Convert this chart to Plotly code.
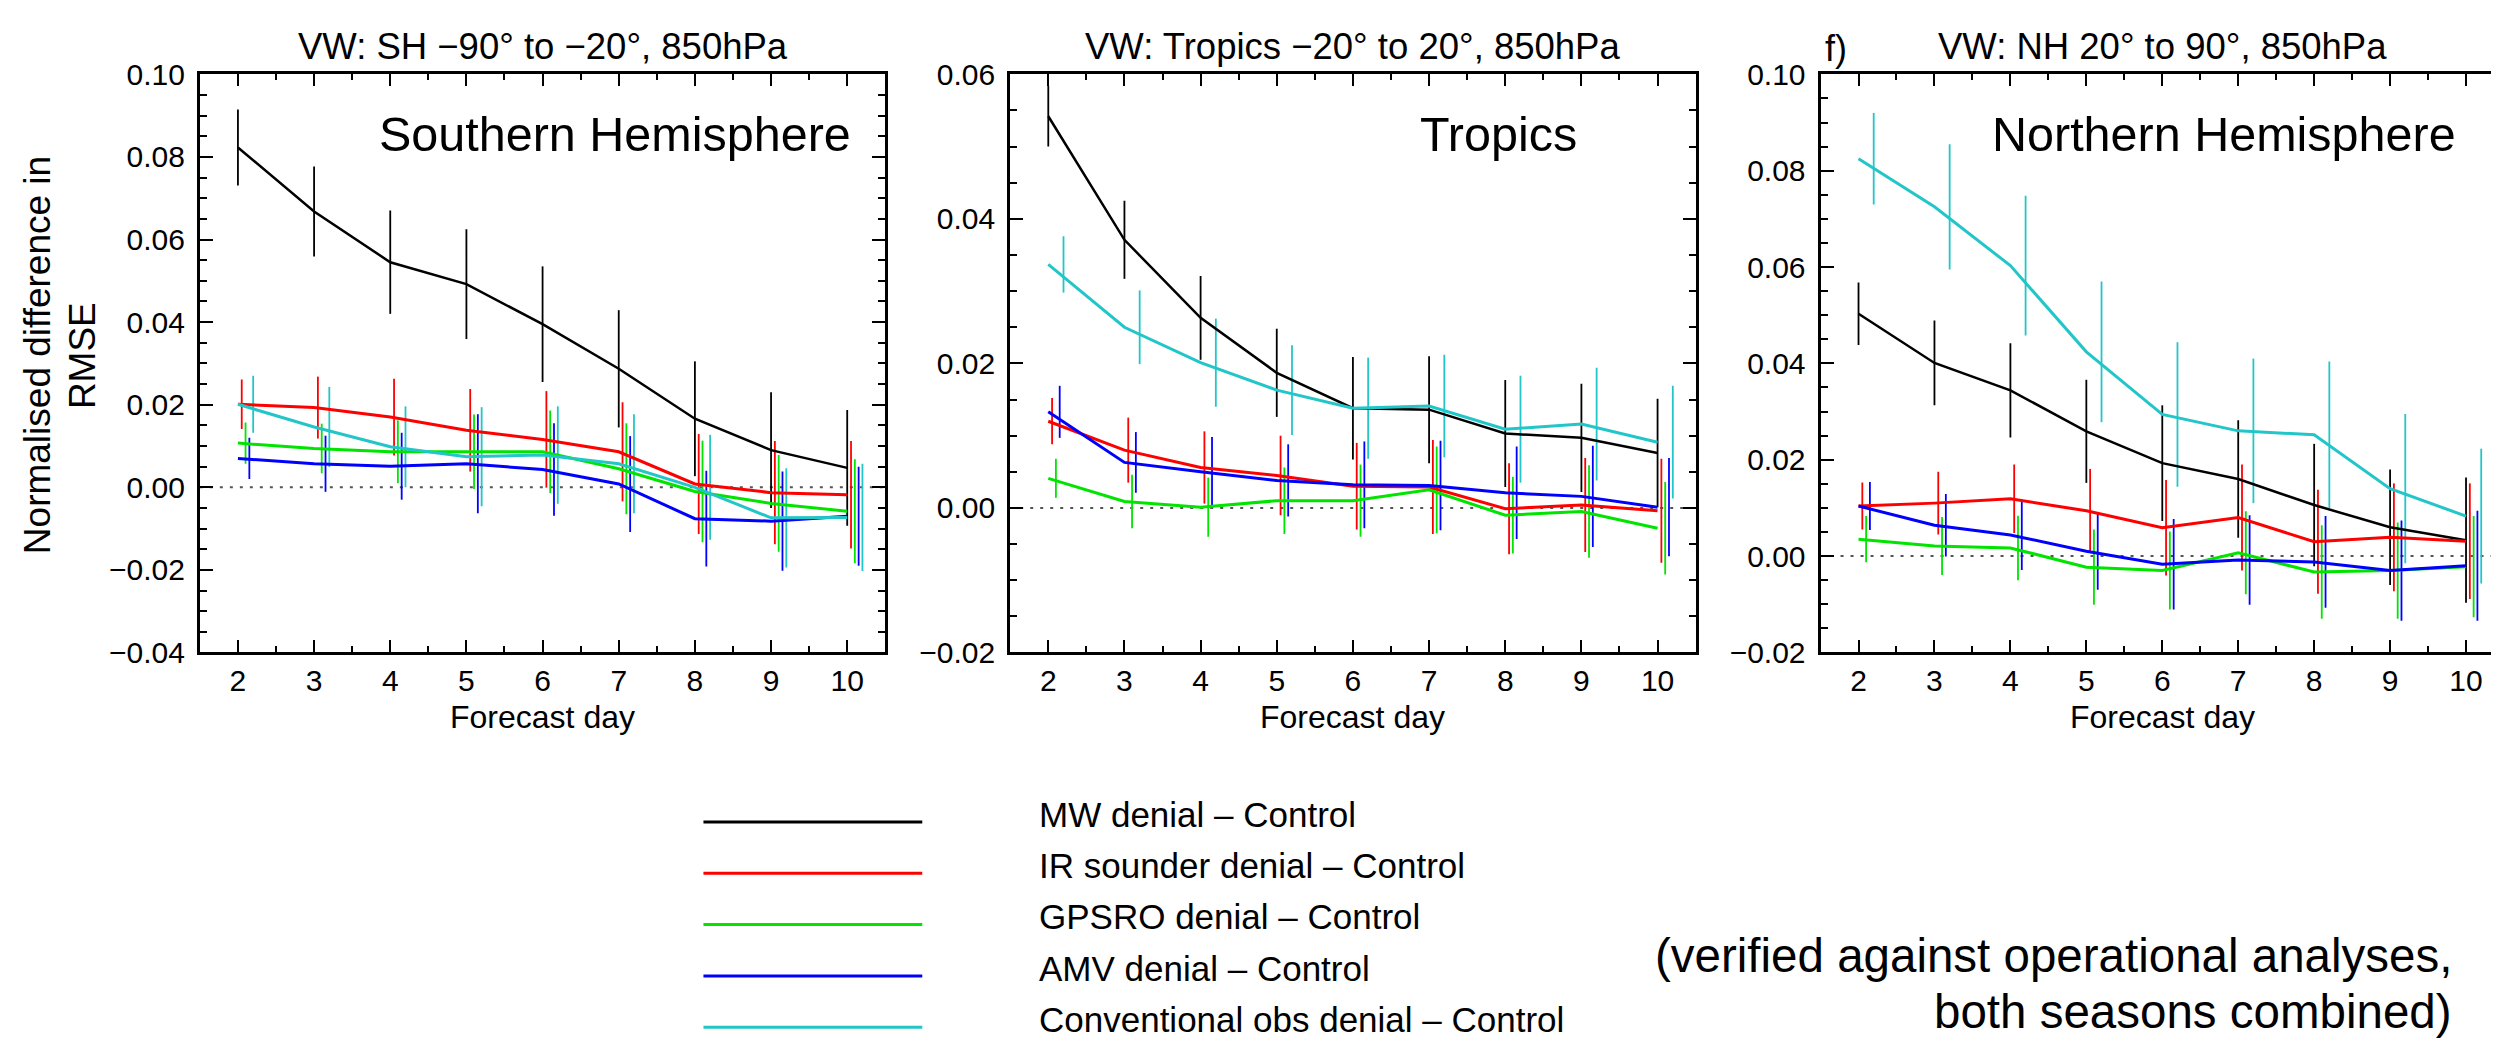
import plotly.graph_objects as go

# ---------------- data ----------------
days = [2, 3, 4, 5, 6, 7, 8, 9, 10]
series_names = ["MW denial – Control", "IR sounder denial – Control", "GPSRO denial – Control",
                "AMV denial – Control", "Conventional obs denial – Control"]

panel_titles = ["VW: SH −90° to −20°, 850hPa", "VW: Tropics −20° to 20°, 850hPa", "VW: NH 20° to 90°, 850hPa"]
region_labels = ["Southern Hemisphere", "Tropics", "Northern Hemisphere"]
x_title = "Forecast day"
y_title_lines = ["Normalised difference in", "RMSE"]
note_lines = ["(verified against operational analyses,", "both seasons combined)"]

# Southern Hemisphere
sh_mw = [0.0823, 0.0668, 0.0545, 0.0492, 0.0395, 0.0287, 0.0166, 0.0090, 0.0047]
sh_mw_err = [0.0092, 0.0109, 0.0125, 0.0133, 0.0140, 0.0142, 0.0139, 0.0140, 0.0140]
sh_ir = [0.0201, 0.0193, 0.0170, 0.0138, 0.0116, 0.0086, 0.0008, -0.0013, -0.0018]
sh_ir_err = [0.0060, 0.0075, 0.0093, 0.0100, 0.0117, 0.0120, 0.0121, 0.0125, 0.0130]
sh_gps = [0.0107, 0.0094, 0.0086, 0.0086, 0.0086, 0.0045, -0.0010, -0.0039, -0.0058]
sh_gps_err = [0.0050, 0.0060, 0.0076, 0.0090, 0.0100, 0.0110, 0.0123, 0.0117, 0.0126]
sh_amv = [0.0070, 0.0057, 0.0051, 0.0057, 0.0043, 0.0008, -0.0076, -0.0082, -0.0070]
sh_amv_err = [0.0050, 0.0068, 0.0081, 0.0120, 0.0112, 0.0116, 0.0116, 0.0120, 0.0120]
sh_conv = [0.0201, 0.0146, 0.0098, 0.0074, 0.0078, 0.0057, 0.0000, -0.0074, -0.0073]
sh_conv_err = [0.0069, 0.0097, 0.0098, 0.0120, 0.0118, 0.0120, 0.0127, 0.0120, 0.0130]

# Tropics
tr_mw = [0.0542, 0.0371, 0.0263, 0.0187, 0.0138, 0.0136, 0.0103, 0.0097, 0.0076]
tr_mw_err = [0.0042, 0.0054, 0.0058, 0.0061, 0.0071, 0.0074, 0.0074, 0.0075, 0.0075]
tr_ir = [0.0120, 0.0080, 0.0056, 0.0045, 0.0030, 0.0029, -0.0001, 0.0004, -0.0004]
tr_ir_err = [0.0032, 0.0045, 0.0050, 0.0055, 0.0060, 0.0065, 0.0063, 0.0065, 0.0072]
tr_gps = [0.0041, 0.0009, 0.0001, 0.0010, 0.0010, 0.0025, -0.0010, -0.0005, -0.0028]
tr_gps_err = [0.0027, 0.0037, 0.0041, 0.0046, 0.0050, 0.0060, 0.0053, 0.0064, 0.0064]
tr_amv = [0.0133, 0.0063, 0.0050, 0.0038, 0.0032, 0.0031, 0.0021, 0.0016, 0.0001]
tr_amv_err = [0.0036, 0.0042, 0.0048, 0.0050, 0.0060, 0.0062, 0.0064, 0.0070, 0.0068]
tr_conv = [0.0337, 0.0250, 0.0201, 0.0163, 0.0138, 0.0141, 0.0109, 0.0116, 0.0091]
tr_conv_err = [0.0039, 0.0051, 0.0061, 0.0062, 0.0070, 0.0071, 0.0074, 0.0078, 0.0078]

# Northern Hemisphere
nh_mw = [0.0503, 0.0401, 0.0344, 0.0259, 0.0193, 0.0160, 0.0106, 0.0060, 0.0033]
nh_mw_err = [0.0065, 0.0088, 0.0098, 0.0107, 0.0120, 0.0122, 0.0127, 0.0120, 0.0130]
nh_ir = [0.0104, 0.0110, 0.0119, 0.0094, 0.0059, 0.0080, 0.0030, 0.0039, 0.0031]
nh_ir_err = [0.0049, 0.0065, 0.0071, 0.0087, 0.0099, 0.0110, 0.0108, 0.0112, 0.0120]
nh_gps = [0.0035, 0.0021, 0.0017, -0.0023, -0.0030, 0.0007, -0.0033, -0.0030, -0.0022]
nh_gps_err = [0.0048, 0.0060, 0.0067, 0.0078, 0.0081, 0.0086, 0.0097, 0.0100, 0.0105]
nh_amv = [0.0104, 0.0064, 0.0044, 0.0010, -0.0017, -0.0008, -0.0012, -0.0030, -0.0020]
nh_amv_err = [0.0050, 0.0065, 0.0073, 0.0080, 0.0094, 0.0093, 0.0095, 0.0104, 0.0114]
nh_conv = [0.0825, 0.0725, 0.0603, 0.0424, 0.0294, 0.0260, 0.0252, 0.0140, 0.0083]
nh_conv_err = [0.0095, 0.0130, 0.0145, 0.0146, 0.0150, 0.0150, 0.0152, 0.0155, 0.0140]

y_ranges = [[-0.04, 0.10], [-0.02, 0.06], [-0.02, 0.10]]

panel_values = [
    [sh_mw, sh_ir, sh_gps, sh_amv, sh_conv],
    [tr_mw, tr_ir, tr_gps, tr_amv, tr_conv],
    [nh_mw, nh_ir, nh_gps, nh_amv, nh_conv],
]
panel_errors = [
    [sh_mw_err, sh_ir_err, sh_gps_err, sh_amv_err, sh_conv_err],
    [tr_mw_err, tr_ir_err, tr_gps_err, tr_amv_err, tr_conv_err],
    [nh_mw_err, nh_ir_err, nh_gps_err, nh_amv_err, nh_conv_err],
]

# ---------------- style ----------------
colors = ["#000000", "#ff0000", "#00e400", "#0000ff", "#22c6c8"]
line_widths = [2.5, 3, 3, 3, 3]
err_offsets = [0.0, 0.05, 0.10, 0.15, 0.20]
FONT = "Liberation Sans, Arial, Helvetica, sans-serif"
W, H = 2499, 1043

def fx(p):
    return p / W

def fy(p):
    return 1 - p / H

plot_left = [192, 1003, 1814]
plot_right = [878, 1689, 2498]
plot_top, plot_bottom = 52, 649
region_right = [846, 1572, 2452]

fig = go.Figure()
layout_axes = {}
shapes = []
annotations = []

for i in range(3):
    xa = "x" if i == 0 else f"x{i+1}"
    ya = "y" if i == 0 else f"y{i+1}"
    xkey = "xaxis" if i == 0 else f"xaxis{i+1}"
    ykey = "yaxis" if i == 0 else f"yaxis{i+1}"

    # error bars first
    for s in range(5):
        fig.add_trace(go.Scatter(
            x=[d + err_offsets[s] for d in days], y=panel_values[i][s],
            mode="markers", marker=dict(size=1, color="rgba(0,0,0,0)"),
            error_y=dict(type="data", array=panel_errors[i][s], visible=True,
                         width=0, thickness=1.8, color=colors[s]),
            xaxis=xa, yaxis=ya, showlegend=False, hoverinfo="skip"))
    for s in range(5):
        fig.add_trace(go.Scatter(
            x=days, y=panel_values[i][s], mode="lines",
            line=dict(color=colors[s], width=line_widths[s]),
            name=series_names[s], xaxis=xa, yaxis=ya, showlegend=False))

    layout_axes[xkey] = dict(
        domain=[fx(plot_left[i]), fx(plot_right[i])], range=[1.5, 10.5],
        anchor=ya, tickmode="linear", tick0=2, dtick=1,
        ticks="inside", ticklen=12, tickwidth=2, tickcolor="black",
        showline=True, linewidth=3, linecolor="black", mirror="ticks",
        showgrid=False, zeroline=False,
        minor=dict(dtick=0.5, tick0=1.5, ticks="inside", ticklen=6, tickwidth=2,
                   tickcolor="black", showgrid=False),
        tickfont=dict(size=30, color="black", family=FONT),
        ticklabelstandoff=0,
    )
    layout_axes[ykey] = dict(
        domain=[fy(plot_bottom), fy(plot_top)], range=y_ranges[i],
        anchor=xa, tickmode="linear", tick0=0, dtick=0.02, tickformat=".2f",
        ticks="inside", ticklen=13, tickwidth=2, tickcolor="black",
        showline=True, linewidth=3, linecolor="black", mirror="ticks",
        showgrid=False, zeroline=False,
        minor=dict(dtick=0.005, tick0=0, ticks="inside", ticklen=7, tickwidth=2,
                   tickcolor="black", showgrid=False),
        tickfont=dict(size=30, color="black", family=FONT),
        ticklabelstandoff=6,
    )

    # dotted zero line
    shapes.append(dict(type="line", xref=f"{xa} domain", x0=0, x1=1, yref=ya, y0=0, y1=0,
                       line=dict(color="#555555", width=2, dash="3px,7px"), layer="below"))

    cx = fx((plot_left[i] + plot_right[i]) / 2)
    annotations.append(dict(text=panel_titles[i], x=cx, y=fy(23), xref="paper", yref="paper",
                            xanchor="center", yanchor="middle", showarrow=False,
                            font=dict(size=36.5, color="black", family=FONT)))
    annotations.append(dict(text=x_title, x=cx, y=fy(716), xref="paper", yref="paper",
                            xanchor="center", yanchor="middle", showarrow=False,
                            font=dict(size=32, color="black", family=FONT)))
    annotations.append(dict(text=region_labels[i], x=fx(region_right[i]), y=fy(114),
                            xref="paper", yref="paper", xanchor="right", yanchor="middle",
                            showarrow=False, font=dict(size=48.5, color="black", family=FONT)))

# panel letter
annotations.append(dict(text="f)", x=fx(1829), y=fy(25), xref="paper", yref="paper",
                        xanchor="center", yanchor="middle", showarrow=False,
                        font=dict(size=36, color="black", family=FONT)))

# y-axis title (two lines)
for txt, px in zip(y_title_lines, [29, 74]):
    annotations.append(dict(text=txt, x=fx(px), y=fy(342), xref="paper", yref="paper",
                            xanchor="center", yanchor="middle", textangle=-90, showarrow=False,
                            font=dict(size=37, color="black", family=FONT)))

# legend drawn as line samples + labels
legend_y = [824, 877, 930, 983, 1036]
for s in range(5):
    shapes.append(dict(type="line", xref="paper", yref="paper", x0=fx(696), x1=fx(915),
                       y0=fy(legend_y[s]), y1=fy(legend_y[s]),
                       line=dict(color=colors[s], width=3)))
    annotations.append(dict(text=series_names[s], x=fx(1030), y=fy(legend_y[s] - 8),
                            xref="paper", yref="paper", xanchor="left", yanchor="middle",
                            showarrow=False, font=dict(size=35, color="black", family=FONT)))

# note
for txt, py in zip(note_lines, [962, 1020]):
    annotations.append(dict(text=txt, x=fx(2448), y=fy(py), xref="paper", yref="paper",
                            xanchor="right", yanchor="middle", showarrow=False,
                            font=dict(size=47.5, color="black", family=FONT)))

fig.update_layout(
    width=W, height=H, autosize=False,
    margin=dict(l=0, r=0, t=0, b=0, pad=0),
    paper_bgcolor="white", plot_bgcolor="white",
    showlegend=False, shapes=shapes, annotations=annotations,
    font=dict(family=FONT, color="black"),
    **layout_axes,
)

fig.write_html("out.html")
